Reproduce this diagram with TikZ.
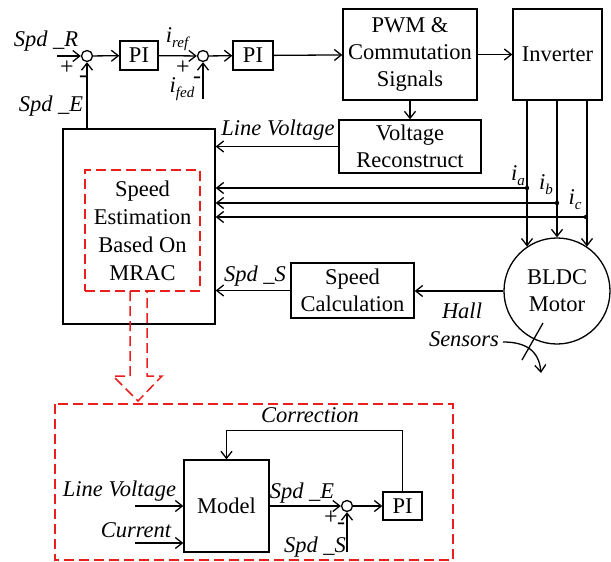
\documentclass[tikz,border=0pt]{standalone}
\usepackage{fontspec}
\setmainfont{Liberation Serif}
\usetikzlibrary{arrows.meta}
\definecolor{rd}{RGB}{235,30,30}
\newcommand\mysub[1]{\raisebox{-5pt}{\fontsize{15}{15}\selectfont\itshape #1}}
\begin{document}
\begin{tikzpicture}[x=1pt,y=-1pt, line width=1.3pt,
 blk/.style={draw, inner sep=0pt, align=center, font=\fontsize{22.5}{27}\selectfont},
 lbl/.style={inner sep=0pt, font=\fontsize{22.5}{25}\selectfont\itshape},
 sgn/.style={inner sep=0pt, font=\fontsize{24}{24}\selectfont},
 sumc/.style={draw, circle, minimum size=11pt, inner sep=0pt},
 arr/.style={-{Straight Barb[length=7pt,width=11pt]}},
 reddash/.style={draw=rd, line width=1.5pt, dash pattern=on 10pt off 5pt}
]
\useasboundingbox (0,0) rectangle (611,562);

% top loop
\node[sumc] (s1) at (87,56) {};
\coordinate (spdR) at (57,56);
\draw[arr] (spdR) -- (s1);
\node[lbl] (lspdR) at (46,41) {Spd \_R};
\node[sgn] (p1) at (67,68) {+};
\node[sgn] (m1) at (83,79) {-};
\node[lbl] (lspdE) at (51,106) {Spd \_E};

\node[blk, minimum width=38pt, minimum height=29pt] (pi1) at (139,55.5) {PI};
\draw[arr] (s1) -- (pi1);
\node[sumc] (s2) at (203,56) {};
\draw[arr] (pi1) -- (s2);
\node[lbl] (liref) at (177,39) {i\mysub{ref}};
\node[sgn] (p2) at (183,68) {+};
\node[sgn] (m2) at (197,80) {-};
\coordinate (ifed) at (203,99);
\draw[arr] (ifed) -- (s2);
\node[lbl] (lifed) at (182,89) {i\mysub{fed}};

\node[blk, minimum width=40pt, minimum height=29pt] (pi2) at (253,55.5) {PI};
\draw[arr] (s2) -- (pi2);

\node[blk, minimum width=134pt, minimum height=91pt] (pwm) at (410,54.5) {PWM \&\\Commutation\\Signals};
\draw[arr] (pi2) -- (pwm);
\node[blk, minimum width=89pt, minimum height=91pt] (inv) at (557.5,54.5) {Inverter};
\draw[arr] (pwm) -- (inv);

\node[blk, minimum width=142pt, minimum height=53pt] (vr) at (410,146.5) {Voltage\\Reconstruct};
\draw[arr] (pwm) -- (vr);

% big estimation box
\node[draw, minimum width=152pt, minimum height=195pt, inner sep=0pt] (big) at (139,226.5) {};
\node[reddash, minimum width=115pt, minimum height=121pt, inner sep=0pt, align=center,
      font=\fontsize{22.5}{28}\selectfont] (mrac) at (142.5,230.5) {Speed\\Estimation\\Based On\\MRAC};
\draw[arr] (s1 |- big.north) -- (s1);
\draw[arr] (vr.west) -- (vr.west -| big.east);
\node[lbl] (llv) at (278,130) {Line Voltage};

% motor
\node[draw, circle, minimum size=106pt, inner sep=0pt, align=center,
      font=\fontsize{22.5}{27}\selectfont] (motor) at (557,291) {BLDC\\Motor};
\draw[arr] (inv.south -| motor.124.5) -- (motor.124.5);
\draw[arr] (inv.south -| motor.north) -- (motor.north);
\draw[arr] (inv.south -| motor.56.8) -- (motor.56.8);

\coordinate (ja) at (527,188);
\coordinate (jb) at (557,203);
\coordinate (jc) at (586,217);
\fill (ja) circle (2.2pt); \fill (jb) circle (2.2pt); \fill (jc) circle (2.2pt);
\draw[arr] (ja) -- (ja -| big.east);
\draw[arr] (jb) -- (jb -| big.east);
\draw[arr] (jc) -- (jc -| big.east);
\node[lbl] (lia) at (518,176) {i\mysub{a}};
\node[lbl] (lib) at (546,185) {i\mysub{b}};
\node[lbl] (lic) at (575,200) {i\mysub{c}};

\node[blk, minimum width=123pt, minimum height=55pt] (sc) at (352.5,290.5) {Speed\\Calculation};
\draw[arr] (motor.west) -- (motor.west -| sc.east);
\draw[arr] (sc.west) -- (sc.west -| big.east);
\node[lbl] (lspdS) at (255,276) {Spd \_S};
\node[lbl] (lhall) at (462,311) {Hall};
\node[lbl] (lsens) at (464,339) {Sensors};
\draw (543,323) -- (522,360);
\draw[arr] (503,342) .. controls (525,342) and (539,350) .. (541,373);

% dashed hollow arrow
\draw[reddash] (130,291) -- (130,376) -- (113,376) -- (138,401) -- (162,376) -- (147,376) -- (147,291);

% bottom detail
\draw[reddash] (55,404) rectangle (453,560);
\node[blk, minimum width=85pt, minimum height=92pt] (model) at (226.5,506) {Model};
\coordinate (lvin) at (135,506);
\coordinate (curin) at (135,543);
\draw[arr] (lvin) -- (lvin -| model.west);
\draw[arr] (curin) -- (curin -| model.west);
\node[lbl] (blv) at (119.5,491) {Line Voltage};
\node[lbl] (bcur) at (136,530) {Current};
\node[sumc] (s3) at (347,506) {};
\draw[arr] (model.east) -- (s3);
\node[blk, minimum width=39pt, minimum height=28pt] (pi3) at (402.5,506) {PI};
\draw[arr] (s3) -- (pi3);
\coordinate (ssin) at (347,552);
\draw[arr] (ssin) -- (s3);
\draw[arr] (pi3.north) -- ++(0,-61) -| (model.north);
\node[lbl] (bspdS) at (315,547) {Spd \_S};
\node[lbl] (bcorr) at (310,415) {Correction};
\node[lbl] (bspdE) at (302,493) {Spd \_E};
\node[sgn] (p3) at (331,518) {+};
\node[sgn] (m3) at (341,526) {-};
\end{tikzpicture}
\end{document}
